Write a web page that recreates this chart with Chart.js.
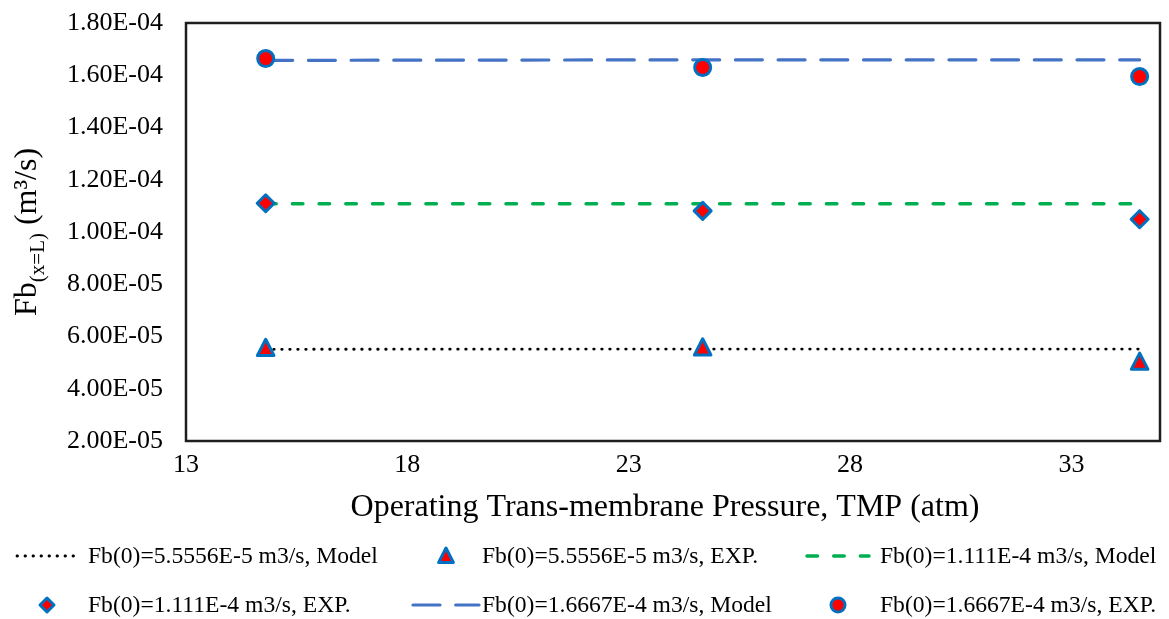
<!DOCTYPE html>
<html>
<head>
<meta charset="utf-8">
<script src="https://cdn.jsdelivr.net/npm/chart.js@4/dist/chart.umd.min.js"></script>
<style>
  html, body { margin: 0; padding: 0; background: #ffffff; }
  #wrap { width: 1169px; height: 619px; }
</style>
</head>
<body>
<div id="wrap"><canvas id="c" width="1169" height="619"></canvas></div>
<script>
// Trans-membrane pressure (atm) at which the runs were made
const tmp = [14.8, 24.67, 34.54];

// Outlet flow Fb(x=L), m3/s, for each inlet flow Fb(0)
const model1 = [5.51e-5, 5.52e-5, 5.52e-5];
const exp1   = [5.55e-5, 5.57e-5, 5.02e-5];
const model2 = [1.108e-4, 1.108e-4, 1.108e-4];
const exp2   = [1.110e-4, 1.081e-4, 1.049e-4];
const model3 = [1.657e-4, 1.659e-4, 1.659e-4];
const exp3   = [1.664e-4, 1.630e-4, 1.595e-4];

// Axis ticks
const xTicks = [13, 18, 23, 28, 33];
const yTicks = [2e-5, 4e-5, 6e-5, 8e-5, 1e-4, 1.2e-4, 1.4e-4, 1.6e-4, 1.8e-4];

// Legend texts
const labels = [
  'Fb(0)=5.5556E-5 m3/s, Model',
  'Fb(0)=5.5556E-5 m3/s, EXP.',
  'Fb(0)=1.111E-4 m3/s, Model',
  'Fb(0)=1.111E-4 m3/s, EXP.',
  'Fb(0)=1.6667E-4 m3/s, Model',
  'Fb(0)=1.6667E-4 m3/s, EXP.'
];

const FONT = '"Liberation Serif", "Times New Roman", serif';
const MARK_BORDER = '#0070C0';
const MARK_FILL = '#FF0000';

const pts = arr => arr.map((v, i) => ({ x: tmp[i], y: v }));

function sci(v) {
  const e = Math.floor(Math.log10(Math.abs(v)) + 1e-9);
  const m = v / Math.pow(10, e);
  const sign = e < 0 ? '-' : '+';
  return m.toFixed(2) + 'E' + sign + String(Math.abs(e)).padStart(2, '0');
}

const lineStyles = {
  m1: { color: '#000000', width: 2.8, dash: [0.5, 7.5], cap: 'round' },
  m2: { color: '#00B050', width: 3.5, dash: [10.5, 16.2], cap: 'round' },
  m3: { color: '#4472C4', width: 3.2, dash: [27, 15.7], cap: 'round' }
};

function markerPath(ctx, style, x, y, r) {
  ctx.beginPath();
  if (style === 'circle') {
    ctx.arc(x, y, r, 0, Math.PI * 2);
  } else if (style === 'triangle') {
    ctx.moveTo(x, y - r);
    ctx.lineTo(x + r * 0.92, y + r * 0.8);
    ctx.lineTo(x - r * 0.92, y + r * 0.8);
  } else {
    ctx.moveTo(x, y - r);
    ctx.lineTo(x + r, y);
    ctx.lineTo(x, y + r);
    ctx.lineTo(x - r, y);
  }
  ctx.closePath();
}

function drawMarker(ctx, style, x, y, r) {
  ctx.save();
  markerPath(ctx, style, x, y, r);
  ctx.fillStyle = MARK_FILL;
  ctx.fill();
  ctx.lineWidth = 3;
  ctx.lineJoin = 'round';
  ctx.strokeStyle = MARK_BORDER;
  ctx.stroke();
  ctx.restore();
}

const decorations = {
  id: 'decorations',
  afterDraw(chart) {
    const ctx = chart.ctx;
    const a = chart.chartArea;
    ctx.save();

    // plot frame
    ctx.strokeStyle = '#1e1e1e';
    ctx.lineWidth = 2.5;
    ctx.strokeRect(a.left, a.top, a.right - a.left, a.bottom - a.top);

    // x-axis title
    ctx.fillStyle = '#000';
    ctx.font = '32px ' + FONT;
    ctx.textAlign = 'center';
    ctx.textBaseline = 'middle';
    ctx.fillText('Operating Trans-membrane Pressure, TMP (atm)', 665, 508);

    // y-axis title with subscript, rotated
    ctx.save();
    ctx.translate(36, 316);
    ctx.rotate(-Math.PI / 2);
    ctx.textAlign = 'left';
    ctx.textBaseline = 'alphabetic';
    let x = 0;
    ctx.font = '32px ' + FONT;
    ctx.fillText('Fb', x, 0);
    x += ctx.measureText('Fb').width;
    ctx.font = '21px ' + FONT;
    ctx.fillText('(x=L)', x, 8);
    x += ctx.measureText('(x=L)').width;
    ctx.font = '32px ' + FONT;
    ctx.fillText(' (m\u00B3/s)', x, 0);
    ctx.restore();

    // legend
    const cols = [
      { s0: 15, s1: 79, tx: 88 },
      { s0: 411, s1: 481, tx: 482 },
      { s0: 805, s1: 871, tx: 880 }
    ];
    const rows = [556, 605];
    const items = [
      { type: 'line', st: lineStyles.m1 },
      { type: 'mark', mk: 'triangle', r: 8 },
      { type: 'line', st: lineStyles.m2 },
      { type: 'mark', mk: 'rectRot', r: 7 },
      { type: 'line', st: lineStyles.m3 },
      { type: 'mark', mk: 'circle', r: 7 }
    ];
    ctx.font = '23.6px ' + FONT;
    ctx.textAlign = 'left';
    ctx.textBaseline = 'middle';
    items.forEach((it, i) => {
      const c = cols[i % 3];
      const y = rows[Math.floor(i / 3)];
      if (it.type === 'line') {
        ctx.save();
        ctx.strokeStyle = it.st.color;
        ctx.lineWidth = it.st.width;
        ctx.lineCap = it.st.cap;
        ctx.setLineDash(it.st.dash);
        ctx.beginPath();
        ctx.moveTo(c.s0 + 2, y);
        ctx.lineTo(c.s1 - 2, y);
        ctx.stroke();
        ctx.restore();
      } else {
        drawMarker(ctx, it.mk, (c.s0 + c.s1) / 2, y, it.r);
      }
      ctx.fillStyle = '#000';
      ctx.fillText(labels[i], c.tx, y + 1);
    });

    ctx.restore();
  }
};

// custom marker drawing for experimental series
const markerDraw = {
  id: 'markerDraw',
  afterDatasetsDraw(chart) {
    const ctx = chart.ctx;
    chart.data.datasets.forEach((ds, i) => {
      if (!ds.marker) return;
      const meta = chart.getDatasetMeta(i);
      meta.data.forEach(el => drawMarker(ctx, ds.marker, el.x, el.y, ds.markerR));
    });
  }
};

const lineDs = (data, st) => ({
  data: pts(data),
  showLine: true,
  borderColor: st.color,
  borderWidth: st.width,
  borderDash: st.dash,
  borderCapStyle: st.cap,
  pointRadius: 0,
  fill: false,
  tension: 0
});

const expDs = (data, mk, r) => ({
  data: pts(data),
  showLine: false,
  pointRadius: 0,
  pointHoverRadius: 0,
  marker: mk,
  markerR: r
});

new Chart(document.getElementById('c'), {
  type: 'scatter',
  data: {
    datasets: [
      lineDs(model1, lineStyles.m1),
      lineDs(model2, lineStyles.m2),
      lineDs(model3, lineStyles.m3),
      expDs(exp1, 'triangle', 9),
      expDs(exp2, 'rectRot', 8.5),
      expDs(exp3, 'circle', 8)
    ]
  },
  options: {
    responsive: false,
    animation: false,
    devicePixelRatio: 1,
    layout: { padding: { top: 23, right: 9, left: 0, bottom: 0 } },
    plugins: { legend: { display: false }, tooltip: { enabled: false } },
    events: [],
    scales: {
      x: {
        type: 'linear',
        min: 13,
        max: 35,
        grid: { display: false, drawTicks: false },
        border: { display: false },
        afterBuildTicks: s => { s.ticks = xTicks.map(v => ({ value: v })); },
        afterFit: s => { s.height = 178; s.paddingLeft = 0; s.paddingRight = 0; },
        ticks: {
          padding: 9,
          color: '#000',
          font: { family: FONT, size: 26 },
          maxRotation: 0,
          callback: v => String(v)
        }
      },
      y: {
        type: 'linear',
        min: 2e-5,
        max: 1.8e-4,
        grid: { display: false, drawTicks: false },
        border: { display: false },
        afterBuildTicks: s => { s.ticks = yTicks.map(v => ({ value: v })); },
        afterFit: s => { s.width = 186; s.paddingTop = 0; s.paddingBottom = 0; },
        ticks: {
          padding: 23,
          color: '#000',
          font: { family: FONT, size: 26 },
          callback: v => sci(v)
        }
      }
    }
  },
  plugins: [markerDraw, decorations]
});
</script>
</body>
</html>
